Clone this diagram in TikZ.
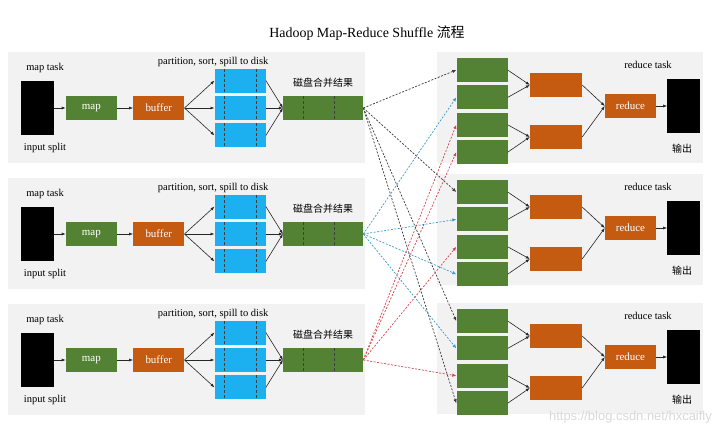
\documentclass[tikz,border=0pt]{standalone}
\usepackage{fontspec}
\setmainfont{Liberation Serif}
\setsansfont{Liberation Sans}
\newfontfamily\cjk{Noto Sans CJK SC}
\usetikzlibrary{positioning,arrows.meta}
\definecolor{mapgreen}{HTML}{548235}
\definecolor{bufforange}{HTML}{C55A11}
\definecolor{spillblue}{HTML}{1CB0F0}
\definecolor{panelgray}{HTML}{F2F2F2}
\definecolor{linkblack}{HTML}{3A3A3A}
\definecolor{linkblue}{HTML}{3A9AD0}
\definecolor{linkred}{HTML}{D9434A}
\tikzset{
	box/.style={inner sep=0pt, minimum height=24bp, text=white, font=\fontsize{11}{13}\selectfont},
	greenbox/.style={box, fill=mapgreen, minimum width=51bp},
	orangebox/.style={box, fill=bufforange, minimum width=51bp},
	blackbox/.style={fill=black, inner sep=0pt, minimum width=33bp, minimum height=54bp},
	cut/.style={densely dashed, black!75, line width=0.6bp},
	spillbox/.style={box, fill=spillblue, minimum width=51bp, path picture={
		\draw[cut] ([xshift=10bp]path picture bounding box.north west) -- ([xshift=10bp]path picture bounding box.south west);
		\draw[cut] ([xshift=-9bp]path picture bounding box.north east) -- ([xshift=-9bp]path picture bounding box.south east);}},
	mergebox/.style={greenbox, minimum width=80bp, path picture={
		\draw[cut] ([xshift=20bp]path picture bounding box.north west) -- ([xshift=20bp]path picture bounding box.south west);
		\draw[cut] ([xshift=51bp]path picture bounding box.north west) -- ([xshift=51bp]path picture bounding box.south west);}},
	lbl/.style={inner sep=0pt, font=\fontsize{10.5}{12}\selectfont},
	cjklbl/.style={inner sep=0pt, font=\cjk\fontsize{10}{12}\selectfont},
	flow/.style={-{Latex[length=4bp,width=3bp]}, black!85, line width=0.6bp},
	link/.style={-{Latex[length=4bp,width=3.5bp]}, dash pattern=on 2bp off 1.5bp, line width=0.7bp},
}
\begin{document}
\begin{tikzpicture}[x=1bp, y=-1bp]
	\fill[white] (0,0) rectangle (720,434);
	\useasboundingbox (0,0) rectangle (720,434);
	
	\node[font=\fontsize{14}{16}\selectfont, inner sep=0pt] (title) at (367,33) {Hadoop Map-Reduce Shuffle {\cjk 流程}};
	
	\foreach \i/\dl/\dr in {1/0/0,2/126/122,3/252/251}{
		\fill[panelgray] (8,52+\dl) rectangle (365,163+\dl);
		\fill[panelgray] (437,52+\dr) rectangle (703,163+\dr);
		
		\node[blackbox] (in\i) at (37,108+\dl) {};
		\node[greenbox, right=12bp of in\i] (map\i) {map};
		\node[orangebox, right=16bp of map\i] (buf\i) {buffer};
		\node[spillbox, right=30bp of buf\i] (spb\i) {};
		\node[spillbox, above=3bp of spb\i] (spa\i) {};
		\node[spillbox, below=3bp of spb\i] (spc\i) {};
		\node[mergebox, right=17bp of spb\i] (mrg\i) {};
		\node[lbl, above=8bp of in\i, xshift=8bp] (mt\i) {map task};
		\node[lbl, below=8bp of in\i, xshift=8bp] (is\i) {input split};
		\node[lbl, above=1bp of spa\i, xshift=-27bp] (ps\i) {partition, sort, spill to disk};
		\node[cjklbl, above=8bp of mrg\i] (dm\i) {磁盘合并结果};
		
		\node[greenbox] (ra\i) at (482,70+\dr) {};
		\node[greenbox, below=3bp of ra\i] (rb\i) {};
		\node[greenbox, below=3bp of rb\i] (rc\i) {};
		\node[greenbox, below=3bp of rc\i] (rd\i) {};
		\node[orangebox, minimum width=52bp] (ga\i) at (556,85+\dr) {};
		\node[orangebox, minimum width=52bp] (gb\i) at (556,137+\dr) {};
		\node[orangebox] (red\i) at (630.5,106+\dr) {reduce};
		\node[blackbox, right=11bp of red\i] (out\i) {};
		\node[lbl] (rt\i) at (648,65+\dr) {reduce task};
		\node[cjklbl] (sc\i) at (682,149+\dr) {输出};
		
		\draw[flow] (in\i) -- (map\i);
		\draw[flow] (map\i) -- (buf\i);
		\foreach \s in {spa,spb,spc}{
			\draw[flow] (buf\i.east) -- (\s\i.west);
			\draw[flow] (\s\i.east) -- (mrg\i.west);
		}
		\draw[flow] (ra\i.east) -- (ga\i.west);
		\draw[flow] (rb\i.east) -- (ga\i.west);
		\draw[flow] (rc\i.east) -- (gb\i.west);
		\draw[flow] (rd\i.east) -- (gb\i.west);
		\draw[flow] (ga\i.east) -- (red\i.west);
		\draw[flow] (gb\i.east) -- (red\i.west);
		\draw[flow] (red\i) -- (out\i);
	}
	
	\foreach \src/\dst/\col in {mrg1/ra1/linkblack,mrg1/ra2/linkblack,mrg1/ra3/linkblack,mrg1/rd3/linkblack,
		mrg2/rb1/linkblue,mrg2/rb2/linkblue,mrg2/rd2/linkblue,mrg2/rb3/linkblue,
		mrg3/rc1/linkred,mrg3/rd1/linkred,mrg3/rc2/linkred,mrg3/rc3/linkred}
		\draw[link, \col] (\src.east) -- (\dst.west);
	
	\node[font=\sffamily\fontsize{13}{15}\selectfont, text=gray!30, anchor=east, inner sep=0pt] (wm) at (712,417) {https://blog.csdn.net/hxcaifly};
\end{tikzpicture}
\end{document}
